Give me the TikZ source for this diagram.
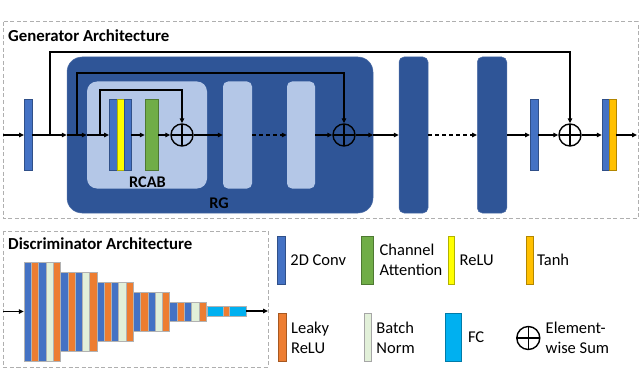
\documentclass[tikz,border=0pt]{standalone}
\usepackage{fontspec}
\setmainfont{Carlito}
\usetikzlibrary{arrows.meta, positioning}
\definecolor{cconv}{RGB}{68,114,196}
\definecolor{crg}{RGB}{47,85,151}
\definecolor{clight}{RGB}{180,199,231}
\definecolor{cca}{RGB}{112,173,71}
\definecolor{crelu}{RGB}{255,255,0}
\definecolor{ctanh}{RGB}{255,192,0}
\definecolor{cleaky}{RGB}{237,125,49}
\definecolor{cbn}{RGB}{226,240,217}
\definecolor{cfc}{RGB}{0,176,240}
\definecolor{cframe}{RGB}{175,175,175}

\begin{document}
\begin{tikzpicture}[
  x=1pt, y=-1pt,
  font=\fontsize{16.5}{20}\selectfont,
  bar/.style={draw=#1!70!black, fill=#1, line width=0.4pt, inner sep=0pt,
    minimum width=7.5pt, minimum height=71pt},
  strip/.style={draw=gray!60, fill=#1, line width=0.3pt, inner sep=0pt,
    minimum width=7.28pt},
  lightbox/.style={fill=clight, rounded corners=5pt, inner sep=0pt,
    minimum width=29pt, minimum height=107pt},
  rgbox/.style={fill=crg, draw=crg!85!white, line width=0.5pt,
    rounded corners=5pt, inner sep=0pt, minimum width=29pt, minimum height=156pt},
  sumnode/.style={circle, draw, line width=1.4pt, minimum size=22pt, inner sep=0pt,
    path picture={\draw[line width=1.4pt]
      (path picture bounding box.north) -- (path picture bounding box.south)
      (path picture bounding box.west) -- (path picture bounding box.east);}},
  frame/.style={draw=cframe, line width=1pt, dash pattern=on 4pt off 2.5pt},
  title/.style={font=\fontsize{16.8}{20}\selectfont\bfseries, anchor=west, inner sep=0pt},
  lab/.style={font=\fontsize{16.3}{20}\selectfont\bfseries, inner sep=0pt},
  legtxt/.style={align=left, inner sep=0pt, anchor=west},
  conn/.style={->, line width=1.4pt},
  >={Triangle[length=5pt, width=4.5pt]},
  node distance=5pt,
]
\useasboundingbox (0,0) rectangle (640,369);

% generator
\draw[frame] (3,22) rectangle (638,218);
\node[title] (gtitle) at (8,36) {Generator Architecture};
\coordinate (gin) at (3,135);
\coordinate (gout) at (637,135);
\node[bar=cconv] (c1) at (28,135) {};
\node[fill=crg, draw=crg!85!white, line width=0.5pt, rounded corners=15pt,
  inner sep=0pt, minimum width=306pt, minimum height=156pt] (rg) at (220,135) {};
\node[lightbox, rounded corners=10pt, minimum width=120pt] (rcab) at (147,135) {};
\node[bar=cconv] (c2a) at (113,135) {};
\node[bar=crelu, minimum width=7.3pt] (relu) at (120.4,135) {};
\node[bar=cconv, minimum width=7pt] (c2b) at (127.5,135) {};
\node[bar=cca, minimum width=13pt] (ca) at (151.5,135) {};
\node[sumnode] (s1) at (182,135) {};
\node[lightbox] (l2) at (237.5,135) {};
\node[lightbox, minimum width=28pt] (l3) at (301,135) {};
\node[sumnode] (s2) at (344,135) {};
\node[rgbox] (d2) at (413.5,135) {};
\node[rgbox, minimum width=29.5pt] (d3) at (492,135) {};
\node[bar=cconv] (c3) at (534,135) {};
\node[sumnode] (s3) at (570,135) {};
\node[bar=cconv, minimum width=7pt] (fin1) at (605.5,135) {};
\node[bar=ctanh, minimum width=7pt] (fin2) at (612.5,135) {};
\node[lab] (rcablab) at (147.5,182) {RCAB};
\node[lab] (rglab) at (219,203) {RG};
\coordinate (k1) at (50,135);
\coordinate (k2) at (77,135);
\coordinate (k3) at (100,135);

\draw[conn] (gin) -- (c1);
\draw[conn] (c1) -- (rg.west);
\draw[conn] (rg.west) -- (rcab.west);
\draw[conn] (rcab.west) -- (c2a);
\draw[conn] (c2b) -- (ca);
\draw[conn] (ca) -- (s1);
\draw[conn] (s1) -- (l2);
\draw[conn, dash pattern=on 4pt off 3pt] (l2) -- (l3);
\draw[conn] (l3) -- (s2);
\draw[conn] (s2) -- (rg.east);
\draw[conn] (rg.east) -- (d2);
\draw[conn, dash pattern=on 4pt off 3pt] (d2) -- (d3);
\draw[conn] (d3) -- (c3);
\draw[conn] (c3) -- (s3);
\draw[conn] (s3) -- (fin1);
\draw[conn] (fin2) -- (gout);
\draw[conn] (k1) -- (k1 |- 0,52) -| (s3.north);
\draw[conn] (k2) -- (k2 |- 0,73) -| (s2.north);
\draw[conn] (k3) -- (k3 |- 0,90) -| (s1.north);

% discriminator
\draw[frame] (3,231) rectangle (268,367);
\node[title] (dtitle) at (8,244) {Discriminator Architecture};
\coordinate (din) at (3,311.5);
\coordinate (dout) at (268,311);
\foreach \s in {0,...,4} {
  \pgfmathsetmacro{\h}{99-20*\s}
  \foreach \c [count=\k from 0] in {cconv,cleaky,cconv,cbn,cleaky} {
    \node[strip=\c, minimum height=\h pt] (d\s\k)
      at ({27.64+36.4*\s+7.28*\k}, 311.5) {};
  }
}
\node[strip=cfc, minimum width=16pt, minimum height=10pt] (fc1) at (214.7,311) {};
\node[strip=cleaky, minimum width=6.6pt, minimum height=10pt] (fcl) at (226,311) {};
\node[strip=cfc, minimum width=16.7pt, minimum height=10pt] (fc2) at (237.7,311) {};
\draw[conn] (din) -- (d00.west);
\draw[conn] (fc2.east) -- (dout);

% legend
\node[bar=cconv, minimum width=7.7pt, minimum height=48pt] (lconv) at (281.2,260) {};
\node[legtxt, right=of lconv] (tconv) {2D Conv};
\node[bar=cca, minimum width=12.6pt, minimum height=48pt] (lca) at (367,260) {};
\node[legtxt, right=6pt of lca] (tca) {Channel\\Attention};
\node[bar=crelu, minimum width=6.6pt, minimum height=48pt] (lrelu) at (451,260) {};
\node[legtxt, right=of lrelu] (trelu) {ReLU};
\node[bar=ctanh, minimum width=7pt, minimum height=48pt] (ltanh) at (529.2,260) {};
\node[legtxt, right=4pt of ltanh] (ttanh) {Tanh};
\node[bar=cleaky, minimum width=8pt, minimum height=48pt] (lleaky) at (281.7,337.5) {};
\node[legtxt, right=of lleaky] (tleaky) {Leaky\\ReLU};
\node[bar=cbn, draw=gray!70, minimum width=7pt, minimum height=48pt] (lbn) at (367.5,337.5) {};
\node[legtxt, right=of lbn] (tbn) {Batch\\Norm};
\node[bar=cfc, minimum width=16.7pt, minimum height=48pt] (lfc) at (453.3,337.5) {};
\node[legtxt, right=6pt of lfc] (tfc) {FC};
\node[sumnode, minimum size=23pt] (lsum) at (528.3,338) {};
\node[legtxt, right=5pt of lsum] (tsum) {Element-\\wise Sum};
\end{tikzpicture}
\end{document}
